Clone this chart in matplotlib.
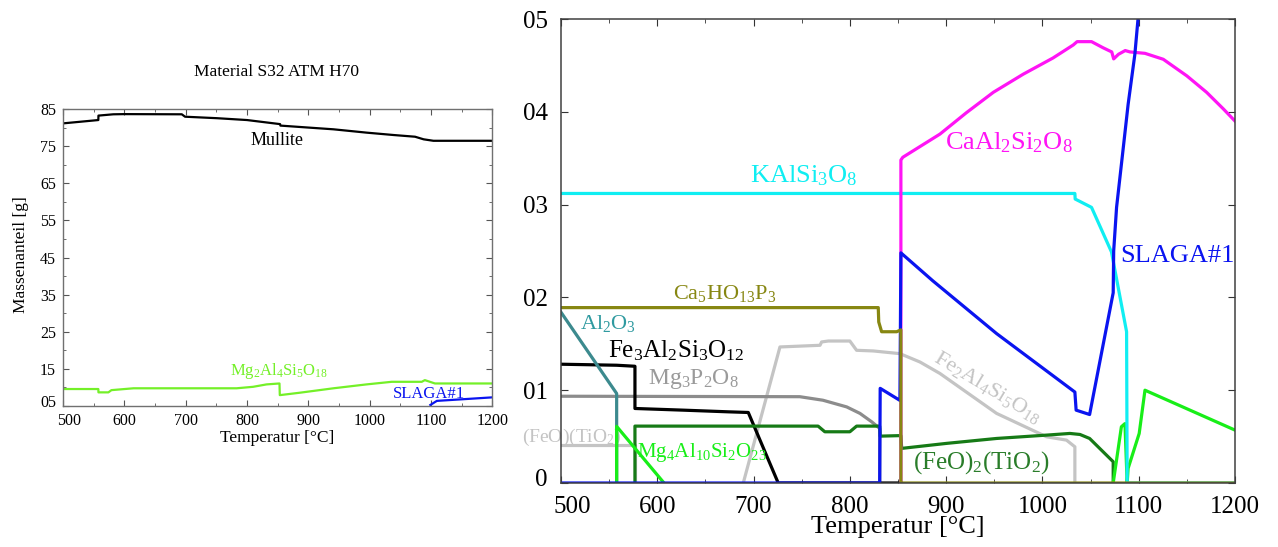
import re
import matplotlib
matplotlib.use("Agg")
import matplotlib.pyplot as plt
from matplotlib.transforms import ScaledTranslation

plt.rcParams["font.family"] = ["Liberation Serif", "DejaVu Serif"]
plt.rcParams["mathtext.fontset"] = "custom"
plt.rcParams["mathtext.rm"] = "Liberation Serif"
plt.rcParams["mathtext.it"] = "Liberation Serif:italic"
plt.rcParams["mathtext.bf"] = "Liberation Serif:bold"

# ---------------- overview: Material S32 ATM H70 (mass in g) ----------------
mullite_T = [500, 557.6, 557.8, 582, 600, 693.7, 699, 751, 800, 854, 854.5, 897.5,
             941, 995, 1039, 1074, 1088, 1104, 1200]
mullite_g = [81.2, 82.1, 83.3, 83.65, 83.7, 83.65, 83.0, 82.6, 82.1, 81.0, 80.6, 80.1,
             79.6, 78.7, 78.06, 77.6, 76.9, 76.5, 76.5]

cordierite_T = [500, 557.6, 557.8, 574, 579, 615, 783, 810, 832, 853, 853.5, 886,
                941, 995, 1036, 1085, 1090, 1106.5, 1200]
cordierite_g = [9.5, 9.5, 8.6, 8.6, 9.2, 9.7, 9.7, 10.1, 10.75, 11.0, 7.85, 8.5,
                9.7, 10.75, 11.45, 11.45, 11.9, 11.0, 11.0]

slag_overview_T = [1099, 1109.6, 1200]
slag_overview_g = [5.2, 6.3, 7.25]

overview_yticks = [5, 15, 25, 35, 45, 55, 65, 75, 85]
overview_ylabels = ["05", "15", "25", "35", "45", "55", "65", "75", "85"]
temp_ticks = [500, 600, 700, 800, 900, 1000, 1100, 1200]

# ---------------- detail: minor phases ----------------
kalsi_T = [500, 1033.7, 1034, 1051, 1071.7, 1087.4, 1088, 1200]
kalsi_v = [0.312, 0.312, 0.306, 0.297, 0.249, 0.163, 0.0, 0.0]

anorthite_T = [853, 853, 855, 893.6, 921, 949, 980, 1011, 1032, 1036, 1051, 1063, 1072,
               1074, 1079, 1086, 1091, 1106.5, 1125.5, 1150, 1170.5, 1188, 1200]
anorthite_v = [0.0, 0.348, 0.351, 0.376, 0.399, 0.421, 0.4405, 0.458, 0.472, 0.4756,
               0.4756, 0.469, 0.4645, 0.457, 0.462, 0.466, 0.4645, 0.463, 0.4566,
               0.4387, 0.421, 0.403, 0.39]

slag_T = [500, 831, 831.5, 852, 853, 886, 952.4, 1033.7, 1035, 1049, 1073.5, 1074,
          1077, 1084, 1089, 1096, 1101]
slag_v = [0.0, 0.0, 0.102, 0.089, 0.248, 0.218, 0.161, 0.098, 0.0785, 0.0738, 0.205,
          0.25, 0.297, 0.3616, 0.408, 0.462, 0.52]

apatite_T = [500, 829.5, 830, 833, 848.6, 853, 853, 1200]
apatite_v = [0.189, 0.189, 0.1735, 0.163, 0.163, 0.165, 0.0, 0.0]

alumina_T = [500, 557.8, 557.8]
alumina_v = [0.184, 0.0964, 0.0]

garnet_T = [500, 557.8, 576.8, 576.8, 627, 673.7, 694.5, 725.6, 853]
garnet_v = [0.128, 0.1269, 0.1258, 0.0803, 0.0785, 0.0767, 0.076, 0.0, 0.0]

mgphos_T = [500, 748, 772, 796.7, 810.5, 822.6, 831, 831]
mgphos_v = [0.0935, 0.093, 0.0892, 0.082, 0.075, 0.066, 0.0588, 0.0]

fecord_T = [689.3, 727.4, 769, 770.7, 777.6, 800, 807, 824.3, 834.7, 852, 872.8,
            893.6, 952.4, 1004.3, 1025, 1033.7, 1033.7]
fecord_v = [0.0, 0.1466, 0.1484, 0.152, 0.153, 0.153, 0.143, 0.1423, 0.1412, 0.1394,
            0.1304, 0.118, 0.075, 0.0498, 0.0462, 0.039, 0.0]

ilmenite_T = [500, 576.8, 576.8]
ilmenite_v = [0.041, 0.041, 0.0]

sapphirine_T = [557.8, 557.8, 607]
sapphirine_v = [0.0, 0.061, 0.0]

ulvospinel_T = [576.8, 576.8, 767, 774, 800, 807, 831, 831.5, 850, 853, 853.8, 900.5,
                952.4, 1004.3, 1028.5, 1039, 1049, 1073.5, 1073.5]
ulvospinel_v = [0.0, 0.0613, 0.0613, 0.0552, 0.0552, 0.0613, 0.0613, 0.0505, 0.051,
                0.051, 0.0373, 0.0427, 0.048, 0.0516, 0.0534, 0.0523, 0.048, 0.0229, 0.0]

mg_hi_T = [1073.5, 1082, 1085.7, 1088, 1089, 1100.5, 1106.5, 1200]
mg_hi_v = [0.0, 0.0606, 0.064, 0.0, 0.0158, 0.0534, 0.1, 0.057]

detail_yticks = [0.0, 0.1, 0.2, 0.3, 0.4, 0.5]
detail_ylabels = ["0", "01", "02", "03", "04", "05"]

C_CYAN = "#10eef2"
C_MAGENTA = "#ff14f5"
C_BLUE = "#0a14f0"
C_OLIVE = "#878712"
C_TEAL = "#3c8a8e"
C_GRAY = "#8c8c8c"
C_LGRAY = "#c4c4c4"
C_DGREEN = "#167a16"
C_GREEN = "#18ee18"
C_LIME = "#74f028"


def chem(s):
    return re.sub(r"(\d+)", r"$_{\1}$", s)


W, H = 1278, 547
fig = plt.figure(figsize=(W / 100, H / 100), dpi=100)

# ---------------- left panel ----------------
ax1 = fig.add_axes([63 / W, 1 - 405.7 / H, (492.3 - 63) / W, (405.7 - 109.3) / H])
ax1.plot(mullite_T, mullite_g, color="black", lw=1.6)
ax1.plot(cordierite_T, cordierite_g, color=C_LIME, lw=1.6)
ax1.plot(slag_overview_T, slag_overview_g, color=C_BLUE, lw=1.6)
ax1.set_xlim(500, 1200)
ax1.set_ylim(5, 85)
ax1.set_xticks(temp_ticks)
ax1.set_xticks(range(550, 1200, 100), minor=True)
ax1.set_yticks(overview_yticks)
ax1.set_yticklabels(overview_ylabels)
ax1.set_yticks(range(10, 85, 10), minor=True)
ax1.tick_params(which="both", direction="in", top=True, right=True, labelsize=11.5,
                color="#555555")
ax1.tick_params(which="major", length=4, pad=5)
ax1.tick_params(which="minor", length=2.5)
for sp in ax1.spines.values():
    sp.set_color("#707070")
    sp.set_linewidth(1.0)

ax1.text(849, 75.4, "Mullite", fontsize=13, ha="center", va="baseline")
ax1.text(772.5, 13.3, chem("Mg2Al4Si5O18"), fontsize=12, color=C_LIME, va="baseline")
ax1.text(1038.5, 7.1, "SLAGA#1", fontsize=12, color=C_BLUE, va="baseline")

fig.text(277 / W, 1 - 72 / H, "Material S32 ATM H70", ha="center", va="center", fontsize=12.5)
fig.text(277 / W, 1 - 438 / H, "Temperatur [°C]", ha="center", va="center", fontsize=12.5)
fig.text(21 / W, 1 - 255 / H, "Massenanteil [g]", ha="center", va="center",
         rotation=90, fontsize=12.5)

# ---------------- right panel ----------------
ax2 = fig.add_axes([561 / W, 1 - 483 / H, (1235 - 561) / W, (483 - 19) / H])
lw = 2.3
ax2.plot(ilmenite_T, ilmenite_v, color=C_LGRAY, lw=lw)
ax2.plot(fecord_T, fecord_v, color=C_LGRAY, lw=lw)
ax2.plot(mgphos_T, mgphos_v, color=C_GRAY, lw=lw)
ax2.plot(garnet_T, garnet_v, color="black", lw=lw)
ax2.plot(alumina_T, alumina_v, color=C_TEAL, lw=lw)
ax2.plot(ulvospinel_T, ulvospinel_v, color=C_DGREEN, lw=lw)
ax2.plot(sapphirine_T, sapphirine_v, color=C_GREEN, lw=lw)
ax2.plot(mg_hi_T, mg_hi_v, color=C_GREEN, lw=lw)
ax2.plot(kalsi_T, kalsi_v, color=C_CYAN, lw=lw)
ax2.plot(anorthite_T, anorthite_v, color=C_MAGENTA, lw=lw)
ax2.plot(slag_T, slag_v, color=C_BLUE, lw=lw)
ax2.plot(apatite_T, apatite_v, color=C_OLIVE, lw=lw)

ax2.set_xlim(500, 1200)
ax2.set_ylim(0, 0.5)
ax2.set_xticks(temp_ticks)
ax2.set_xticks(range(550, 1200, 100), minor=True)
ax2.set_yticks(detail_yticks)
ax2.set_yticklabels(detail_ylabels)
ax2.tick_params(which="both", direction="in", top=True, right=True, labelsize=18,
                color="#333333")
ax2.tick_params(which="major", length=5, pad=9.5)
ax2.tick_params(which="minor", length=3)
for sp in ax2.spines.values():
    sp.set_color("#404040")
    sp.set_linewidth(1.1)

ax2.text(696, 0.324, chem("KAlSi3O8"), fontsize=19, color=C_CYAN, va="baseline")
ax2.text(898.7, 0.36, chem("CaAl2Si2O8"), fontsize=19, color=C_MAGENTA, va="baseline")
ax2.text(1080.5, 0.238, "SLAGA#1", fontsize=19, color=C_BLUE, va="baseline")
ax2.text(616.3, 0.1986, chem("Ca5HO13P3"), fontsize=16, color=C_OLIVE, va="baseline")
ax2.text(519.7, 0.1663, chem("Al2O3"), fontsize=16, color="#2f9aa0", va="baseline")
ax2.text(548.8, 0.1358, chem("Fe3Al2Si3O12"), fontsize=18, color="black", va="baseline")
ax2.text(590.3, 0.1072, chem("Mg3P2O8"), fontsize=17, color="#9a9a9a", va="baseline")
ax2.text(459.5, 0.0444, chem("(FeO)(TiO2)"), fontsize=14, color=C_LGRAY, va="baseline",
         zorder=0)
ax2.text(579, 0.0283, chem("Mg4Al10Si2O23"), fontsize=15, color=C_GREEN, va="baseline")
ax2.text(865.5, 0.0158, chem("(FeO)2(TiO2)"), fontsize=18, color="#2a7d2a", va="baseline")
ax2.text(943.4, 0.1032, chem("Fe2Al4Si5O18"), fontsize=16, color=C_LGRAY,
         rotation=-31, ha="center", va="center", rotation_mode="anchor")

fig.text(898 / W, 1 - 527 / H, "Temperatur [°C]", ha="center", va="center", fontsize=19)


# keep the edge tick labels inside the frame corners
def shift(label, dx, dy):
    label.set_transform(label.get_transform()
                        + ScaledTranslation(dx / 100, dy / 100, fig.dpi_scale_trans))


shift(ax2.get_xticklabels()[0], 11, 0)
shift(ax2.get_yticklabels()[0], 0, 6)
shift(ax1.get_xticklabels()[0], 6, 0)
shift(ax1.get_yticklabels()[0], 0, 5)

fig.savefig("out.png", dpi=100)
